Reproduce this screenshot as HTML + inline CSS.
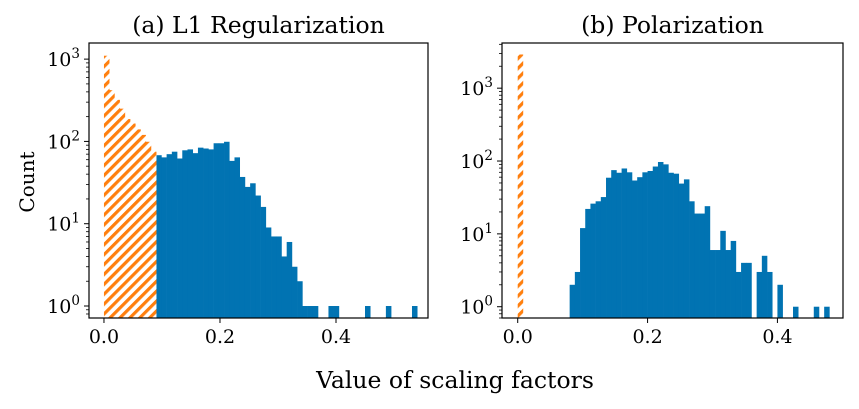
<!DOCTYPE html>
<html><head><meta charset="utf-8"><style>
body{margin:0;background:#fff;}
svg text{font-family:"DejaVu Serif","Liberation Serif",serif;fill:#000;}
</style></head><body>
<svg id="fig" width="859" height="404" xmlns="http://www.w3.org/2000/svg">
<defs>
<pattern id="hatch" patternUnits="userSpaceOnUse" width="7" height="7" patternTransform="rotate(45)">
<rect width="7" height="7" fill="#fff"/>
<rect width="3.2" height="7" fill="#ff7f0e"/>
</pattern>
</defs>
<text x="455" y="388" font-size="23.5" text-anchor="middle">Value of scaling factors</text>
<text transform="translate(34,182) rotate(-90)" font-size="20" text-anchor="middle">Count</text>
</svg>
<script>
const binWidthL = 0.009;
const prunedL = [1100,420,320,250,187,165,140,120,99,75];
const keptL = [0,0,0,0,0,0,0,0,0,0,68,64,70,75,62,78,80,72,84,82,80,95,95,99,58,64,37,28,31,22,16,9,7,7,4,6,3,2,1,1,1,0,0,1,1,0,0,0,0,0,1,0,0,0,1,0,0,0,0,1];
const binWidthR = 0.008;
const prunedR = [2900];
const keptR = [0,0,0,0,0,0,0,0,0,0,2,3,12,22,26,28,32,59,75,69,79,70,54,60,70,73,84,97,90,69,67,49,56,28,19,19,24,6,6,11,6,8,3,4,4,0,3,5,3,0,2,0,0,1,0,0,0,1,0,1];
const xTicks = [0.0, 0.2, 0.4];
const xTickLabels = ["0.0","0.2","0.4"];
const yExps = [0,1,2,3];

const svg = document.getElementById('fig');
const NS = 'http://www.w3.org/2000/svg';
function mk(tag, attrs, parent){const e=document.createElementNS(NS,tag);for(const k in attrs)e.setAttribute(k,attrs[k]);(parent||svg).appendChild(e);return e;}

function panel(cfg){
  const g = mk('g',{});
  
  
  const {x0,x1,y0,y1,xmin,xmax,ymin,ymax} = cfg;
  const sx = v => x0 + (v - xmin)/(xmax - xmin)*(x1 - x0);
  const ly = Math.log10(ymin), hy = Math.log10(ymax);
  const sy = v => y1 - (Math.log10(v) - ly)/(hy - ly)*(y1 - y0);
  function bars(vals, fill, nm){
    vals.forEach((v,i)=>{
      if(!v) return;
      const xa = sx(i*cfg.bw), xb = sx((i+1)*cfg.bw);
      const r = mk('rect',{x:xa,y:sy(v),width:xb-xa+0.3,height:y1-sy(v),fill:fill},g);
      
      
    });
  }
  bars(cfg.kept,'#0173b2','kept-bar');
  bars(cfg.pruned,'url(#hatch)','pruned-bar');
  const f = mk('rect',{x:x0,y:y0,width:x1-x0,height:y1-y0,fill:'none',stroke:'#000','stroke-width':1.2},g);
  
  
  xTicks.forEach((t,i)=>{
    const x = sx(t);
    mk('line',{x1:x,x2:x,y1:y1,y2:y1+5,stroke:'#000','stroke-width':1},g);
    const tx = mk('text',{x:x,y:y1+25,'font-size':19,'text-anchor':'middle'},g);
    tx.textContent = xTickLabels[i];
    
    
  });
  for(let e=-1;e<=4;e++){
    for(let m=1;m<10;m++){
      const v = m*Math.pow(10,e);
      if(v<ymin||v>ymax) continue;
      const y = sy(v);
      mk('line',{x1:x0-(m===1?5:3),x2:x0,y1:y,y2:y,stroke:'#000','stroke-width':m===1?1:0.8},g);
    }
  }
  yExps.forEach(e=>{
    const v = Math.pow(10,e);
    if(v<ymin||v>ymax) return;
    const tx = mk('text',{x:x0-9,y:sy(v)+7,'font-size':19,'text-anchor':'end'},g);
    tx.innerHTML = '10<tspan dy="-8" font-size="13.5">'+e+'</tspan>';
    
    
  });
  const t = mk('text',{x:(x0+x1)/2,y:y0-10,'font-size':23.5,'text-anchor':'middle'},g);
  t.textContent = cfg.title;
  
  
}
panel({name:'panel-l1',x0:89,x1:428,y0:43,y1:318,xmin:-0.0258,xmax:0.5586,ymin:0.715,ymax:1570,bw:binWidthL,kept:keptL,pruned:prunedL,title:'(a) L1 Regularization'});
panel({name:'panel-polarization',x0:502,x1:843,y0:43,y1:318,xmin:-0.0242,xmax:0.501,ymin:0.7,ymax:4170,bw:binWidthR,kept:keptR,pruned:prunedR,title:'(b) Polarization'});
</script>
</body></html>
